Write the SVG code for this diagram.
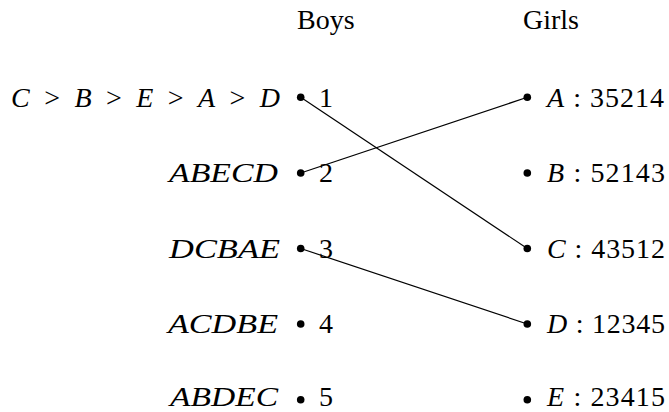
<svg xmlns="http://www.w3.org/2000/svg" width="669" height="412" viewBox="0 0 669 412">
<style>
.t{font-family:'Liberation Serif','DejaVu Serif',serif;font-size:28px;fill:#000}
.i{font-style:italic}
.dot{fill:#000}
.edge{stroke:#000;stroke-width:1.2;fill:none}
</style>
<rect width="669" height="412" fill="#fff"/>
<g id="headers" class="t">
<text x="297" y="28.5">Boys</text>
<text x="523" y="28.5">Girls</text>
</g>
<g id="connectors">
<line class="edge" x1="300.7" y1="97.3" x2="527.3" y2="248.5"/>
<line class="edge" x1="300.7" y1="173" x2="527.3" y2="97.3"/>
<line class="edge" x1="300.7" y1="248.5" x2="527.3" y2="324"/>
</g>
<g id="boy1" class="t">
<text x="11" y="106.6" textLength="269"><tspan class="i">C</tspan> &gt; <tspan class="i">B</tspan> &gt; <tspan class="i">E</tspan> &gt; <tspan class="i">A</tspan> &gt; <tspan class="i">D</tspan></text>
<circle class="dot" cx="300.7" cy="97.3" r="3.8"/>
<text x="319" y="106.6">1</text>
</g>
<g id="boy2" class="t">
<text class="i" x="169" y="182.3" textLength="109" lengthAdjust="spacingAndGlyphs">ABECD</text>
<circle class="dot" cx="300.7" cy="173" r="3.8"/>
<text x="319" y="182.3">2</text>
</g>
<g id="boy3" class="t">
<text class="i" x="169" y="257.8" textLength="111" lengthAdjust="spacingAndGlyphs">DCBAE</text>
<circle class="dot" cx="300.7" cy="248.5" r="3.8"/>
<text x="319" y="257.8">3</text>
</g>
<g id="boy4" class="t">
<text class="i" x="168" y="333.3" textLength="110" lengthAdjust="spacingAndGlyphs">ACDBE</text>
<circle class="dot" cx="300.7" cy="324" r="3.8"/>
<text x="319" y="333.3">4</text>
</g>
<g id="boy5" class="t">
<text class="i" x="170" y="406" textLength="108" lengthAdjust="spacingAndGlyphs">ABDEC</text>
<circle class="dot" cx="300.7" cy="399.7" r="3.8"/>
<text x="319" y="406">5</text>
</g>
<g id="girlA" class="t">
<circle class="dot" cx="527.3" cy="97.3" r="3.8"/>
<text x="547" y="106.6" textLength="117"><tspan class="i">A</tspan> : 35214</text>
</g>
<g id="girlB" class="t">
<circle class="dot" cx="527.3" cy="173" r="3.8"/>
<text x="547" y="182.3" textLength="118"><tspan class="i">B</tspan> : 52143</text>
</g>
<g id="girlC" class="t">
<circle class="dot" cx="527.3" cy="248.5" r="3.8"/>
<text x="547" y="257.8" textLength="118"><tspan class="i">C</tspan> : 43512</text>
</g>
<g id="girlD" class="t">
<circle class="dot" cx="527.3" cy="324" r="3.8"/>
<text x="547" y="333.3" textLength="118"><tspan class="i">D</tspan> : 12345</text>
</g>
<g id="girlE" class="t">
<circle class="dot" cx="527.3" cy="399.7" r="3.8"/>
<text x="547" y="406" textLength="118"><tspan class="i">E</tspan> : 23415</text>
</g>
</svg>
